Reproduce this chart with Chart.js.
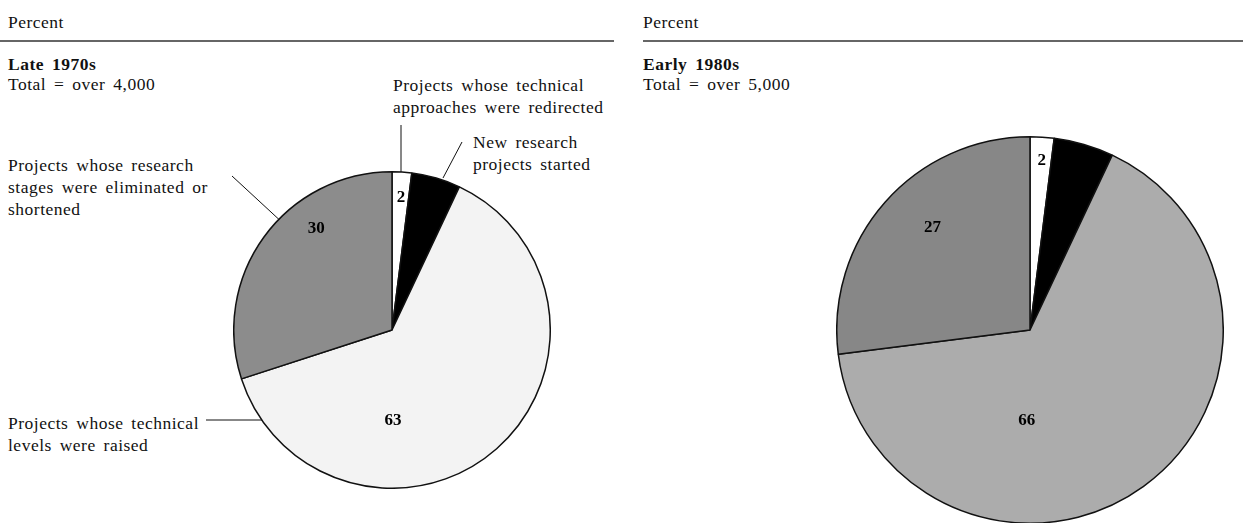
<!DOCTYPE html>
<html>
<head>
<meta charset="utf-8">
<script src="https://cdn.jsdelivr.net/npm/chart.js@4.4.0/dist/chart.umd.min.js"></script>
<style>
body { margin: 0; width: 1243px; height: 523px; overflow: hidden; background: #fff; position: relative;
       font-family: 'Liberation Serif', 'Times New Roman', serif; color: #111; }
.t { position: absolute; font-size: 17.5px; line-height: 22px; white-space: nowrap;
     word-spacing: 3px; letter-spacing: 0.5px; }
.b { font-weight: bold; }
.pie { position: absolute; }
svg { position: absolute; left: 0; top: 0; }
</style>
</head>
<body>

<div class="t" style="left:8px;top:11px">Percent</div>
<div class="t b" style="left:8px;top:53px">Late 1970s</div>
<div class="t" style="left:8px;top:73px">Total = over 4,000</div>

<div class="t" style="left:643px;top:11px">Percent</div>
<div class="t b" style="left:643px;top:53px">Early 1980s</div>
<div class="t" style="left:643px;top:73px">Total = over 5,000</div>

<div class="t" style="left:393px;top:74px">Projects whose technical<br>approaches were redirected</div>
<div class="t" style="left:473px;top:131px">New research<br>projects started</div>
<div class="t" style="left:8px;top:154px">Projects whose research<br>stages were eliminated or<br>shortened</div>
<div class="t" style="left:8px;top:412px">Projects whose technical<br>levels were raised</div>

<svg width="1243" height="523">
  <line x1="0" y1="41" x2="614" y2="41" stroke="#333" stroke-width="1.5"/>
  <line x1="643" y1="41" x2="1243" y2="41" stroke="#333" stroke-width="1.5"/>
  <line x1="401" y1="125" x2="401" y2="182" stroke="#111" stroke-width="1"/>
  <line x1="462" y1="142" x2="443" y2="178" stroke="#111" stroke-width="1"/>
  <line x1="232" y1="176" x2="285" y2="225" stroke="#111" stroke-width="1"/>
  <line x1="206" y1="420" x2="280" y2="420" stroke="#111" stroke-width="1"/>
</svg>

<div class="pie" style="left:233px;top:171px;width:318px;height:318px"><canvas id="late"></canvas></div>
<div class="pie" style="left:836px;top:136px;width:388px;height:388px"><canvas id="early"></canvas></div>

<script>
// slices clockwise from 12 o'clock
const categories = ['Projects whose technical approaches were redirected',
                    'New research projects started',
                    'Projects whose technical levels were raised',
                    'Projects whose research stages were eliminated or shortened'];
const late1970s = [2, 5, 63, 30];
const early1980s = [2, 5, 66, 27];
const shownLate = ['2', null, '63', '30'];
const shownEarly = ['2', null, '66', '27'];

// where each number sits: fraction along the slice angle, fraction of radius
const placeLate = [[0.54, 0.84], null, [0.68, 0.57], [0.66, 0.80]];
const placeEarly = [[0.55, 0.88], null, [0.66, 0.47], [0.55, 0.73]];

const sliceLabels = {
    id: 'sliceLabels',
    afterDatasetsDraw(chart, args, opts) {
        const ctx = chart.ctx;
        const arcs = chart.getDatasetMeta(0).data;
        ctx.save();
        ctx.font = 'bold 17px "Liberation Serif", serif';
        ctx.fillStyle = '#000';
        ctx.textAlign = 'center';
        ctx.textBaseline = 'middle';
        arcs.forEach((a, i) => {
            if (!opts.text[i]) return;
            const p = a.getProps(['x', 'y', 'startAngle', 'endAngle', 'outerRadius'], true);
            const ang = p.startAngle + opts.place[i][0] * (p.endAngle - p.startAngle);
            const r = opts.place[i][1] * p.outerRadius;
            ctx.fillText(opts.text[i], p.x + Math.cos(ang) * r, p.y + Math.sin(ang) * r);
        });
        ctx.restore();
    }
};

function makePie(id, values, colors, text, place) {
    return new Chart(document.getElementById(id), {
        type: 'pie',
        data: {
            labels: categories,
            datasets: [{
                data: values,
                backgroundColor: colors,
                borderColor: '#111',
                borderWidth: 1.5
            }]
        },
        options: {
            responsive: true,
            maintainAspectRatio: false,
            animation: false,
            layout: { padding: 0 },
            plugins: {
                legend: { display: false },
                tooltip: { enabled: false },
                sliceLabels: { text: text, place: place }
            }
        },
        plugins: [sliceLabels]
    });
}

makePie('late', late1970s, ['#ffffff', '#000000', '#f3f3f3', '#8c8c8c'], shownLate, placeLate);
makePie('early', early1980s, ['#ffffff', '#000000', '#acacac', '#878787'], shownEarly, placeEarly);
</script>
</body>
</html>
